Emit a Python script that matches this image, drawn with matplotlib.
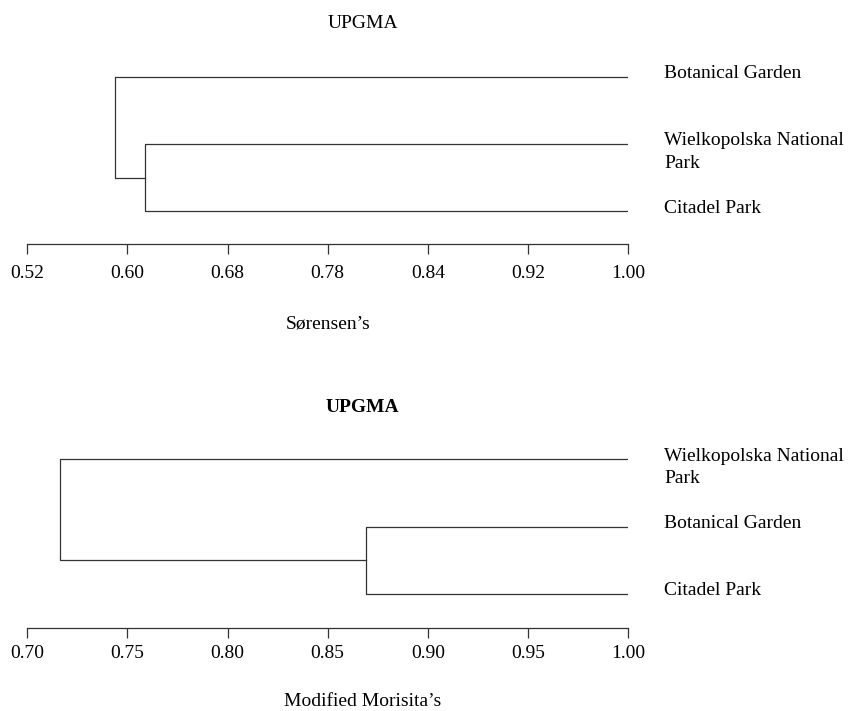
import matplotlib
matplotlib.use("Agg")
import matplotlib.pyplot as plt

plt.rcParams['font.family'] = ['Liberation Serif', 'DejaVu Serif']

# top dendrogram (Sorensen's similarity, UPGMA)
sor_leaves = ["Botanical Garden", "Wielkopolska National\nPark", "Citadel Park"]
sor_merge_inner = 0.614   # Wielkopolska + Citadel
sor_merge_outer = 0.590   # + Botanical Garden
sor_ticks = [0.52, 0.60, 0.68, 0.76, 0.84, 0.92, 1.00]
sor_ticklabels = ["0.52", "0.60", "0.68", "0.78", "0.84", "0.92", "1.00"]

# bottom dendrogram (Modified Morisita's similarity, UPGMA)
mor_leaves = ["Wielkopolska National\nPark", "Botanical Garden", "Citadel Park"]
mor_merge_inner = 0.869   # Botanical + Citadel
mor_merge_outer = 0.7165  # + Wielkopolska
mor_ticks = [0.70, 0.75, 0.80, 0.85, 0.90, 0.95, 1.00]
mor_ticklabels = ["0.70", "0.75", "0.80", "0.85", "0.90", "0.95", "1.00"]

W, H = 857, 711
fig = plt.figure(figsize=(W / 100, H / 100), dpi=100)
LC = "#333333"
FS = 14


def px_axes(left, right, top, bottom):
    return fig.add_axes([left / W, (H - bottom) / H, (right - left) / W, (bottom - top) / H])


def dendro(ax, leaves, inner, outer, lo, ticks, ticklabels, xlabel, ybottom,
           tickpad, labpad, xlab_x):
    # leaf 0 joins last; leaves 1 and 2 join first
    y0, y1, y2 = 0, 1, 2
    ymid = (y1 + y2) / 2
    ax.plot([1.0, inner, inner, 1.0], [y1, y1, y2, y2], color=LC, lw=0.9)
    ax.plot([1.0, outer, outer, inner], [y0, y0, ymid, ymid], color=LC, lw=0.9)
    ax.set_xlim(lo, 1.0)
    ax.set_ylim(ybottom, -0.5)
    for s in ["top", "right", "left"]:
        ax.spines[s].set_visible(False)
    ax.spines["bottom"].set_color(LC)
    ax.spines["bottom"].set_linewidth(0.9)
    ax.spines["bottom"].set_bounds(lo, 1.0)
    ax.set_yticks([])
    ax.set_xticks(ticks)
    ax.set_xticklabels(ticklabels, fontsize=FS)
    ax.tick_params(axis="x", length=7, width=0.9, color=LC, pad=tickpad)
    for i, name in enumerate(leaves):
        for k, line in enumerate(name.split("\n")):
            ax.annotate(line, xy=(1.0, i), xytext=(26, -1 - 16 * k), textcoords="offset points",
                        ha="left", va="baseline", fontsize=FS, annotation_clip=False)
    ax.set_xlabel(xlabel, fontsize=FS, labelpad=labpad)
    ax.xaxis.label.set_x(xlab_x)
    ax.patch.set_visible(False)


ax1 = px_axes(27.3, 628, 43, 243.5)
dendro(ax1, sor_leaves, sor_merge_inner, sor_merge_outer, 0.52, sor_ticks, sor_ticklabels,
       "Sørensen’s", 2.478, 8.8, 24, 0.5)
fig.text(363 / W, 1 - 23 / H, "UPGMA", ha="center", va="center", fontsize=FS)

ax2 = px_axes(27.3, 628, 425.6, 628.3)
dendro(ax2, mor_leaves, mor_merge_inner, mor_merge_outer, 0.70, mor_ticks, mor_ticklabels,
       "Modified Morisita’s", 2.51, 5.2, 22.2, 0.558)
fig.text(362 / W, 1 - 407 / H, "UPGMA", ha="center", va="center", fontsize=FS,
         fontweight="bold")

fig.savefig("out.png", dpi=100)
